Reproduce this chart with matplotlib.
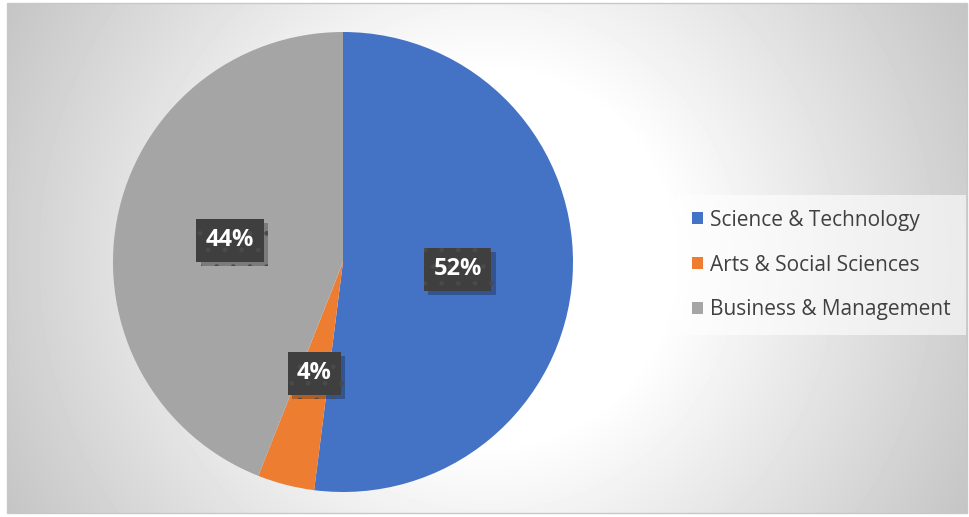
import numpy as np
import matplotlib
matplotlib.use("Agg")
import matplotlib.pyplot as plt
from matplotlib import patheffects
from matplotlib.patches import Rectangle

categories = ["Science & Technology", "Arts & Social Sciences", "Business & Management"]
values = [52, 4, 44]
colors = ["#4472C4", "#ED7D31", "#A5A5A5"]

plt.rcParams['font.family'] = ['Open Sans', 'DejaVu Sans']

W, H = 969, 517
fig = plt.figure(figsize=(W / 100, H / 100), dpi=100, facecolor='white')

# background with radial gradient
bg = fig.add_axes([0, 0, 1, 1])
bg.set_xlim(0, W)
bg.set_ylim(H, 0)
bg.axis('off')
x0, x1, y0, y1 = 7, 967, 3, 513
xs = np.arange(x0, x1) + 0.5
ys = np.arange(y0, y1) + 0.5
X, Y = np.meshgrid(xs, ys)
cx, cy = (x0 + x1) / 2, (y0 + y1) / 2
d = np.hypot(X - cx, Y - cy)
t = np.clip((d - 185) / (560 - 185), 0, 1)
g = 1.0 - t * (1.0 - 0.76)
bg.imshow(g, extent=(x0, x1, y1, y0), cmap='gray', vmin=0, vmax=1,
          interpolation='bilinear', aspect='auto', zorder=0)
bg.add_patch(Rectangle((x0, y0), x1 - x0, y1 - y0, fill=False,
                       edgecolor='#c8c8c8', linewidth=1, zorder=1))

# pie
pcx, pcy, r = 343, 262, 230
ax = fig.add_axes([(pcx - r) / W, (H - pcy - r) / H, 2 * r / W, 2 * r / H])
wedges, texts, autotexts = ax.pie(
    values, colors=colors, startangle=90, counterclock=False,
    autopct=lambda p: f"{p:.0f}%", pctdistance=0.5,
    wedgeprops=dict(linewidth=0),
    textprops=dict(color='white', fontsize=17, fontweight='bold'))
ax.set_xlim(-1, 1)
ax.set_ylim(-1, 1)
ax.set_aspect('equal')
ax.axis('off')

for at in autotexts:
    at.set_bbox(dict(boxstyle='square,pad=0.4', facecolor='#3f3f3f',
                     edgecolor='#4a4a4a', linewidth=0, hatch='.'))
    at.get_bbox_patch().set_path_effects([
        patheffects.SimplePatchShadow(offset=(3, -3), shadow_rgbFace='black', alpha=0.25),
        patheffects.Normal()])

leg = ax.legend(wedges, categories, loc='upper left',
                bbox_to_anchor=(677 / W, 1 - 195 / H), bbox_transform=fig.transFigure,
                frameon=True, fancybox=False, facecolor='white', framealpha=0.6,
                edgecolor='none', fontsize=15, handlelength=0.55, handleheight=0.55,
                handletextpad=0.35, labelspacing=1.15, borderpad=0.7, borderaxespad=0)
for txt in leg.get_texts():
    txt.set_color('#404040')

fig.savefig('out.png', dpi=100, facecolor='white')
